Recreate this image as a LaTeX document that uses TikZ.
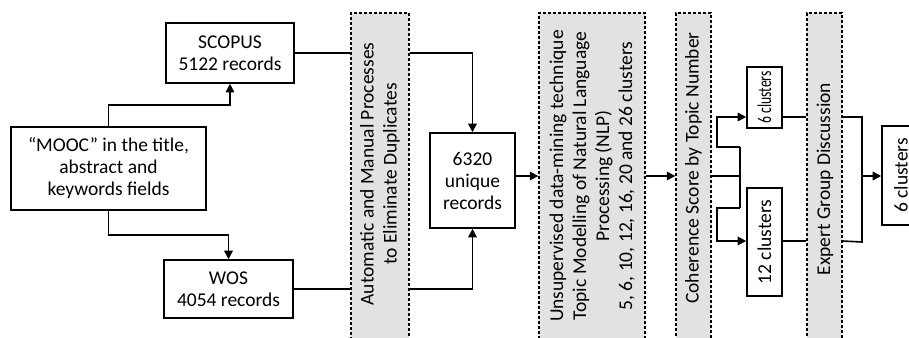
\documentclass[tikz,border=0pt]{standalone}
\usepackage{fontspec}
\setmainfont{Carlito}
\usepackage{graphicx}
\usetikzlibrary{arrows.meta,calc}
\definecolor{panelgray}{RGB}{226,226,226}
\begin{document}
\begin{tikzpicture}[x=1pt,y=-1pt,
  box/.style={draw, line width=1.6pt, fill=white, align=center, inner sep=0pt, font=\fontsize{19.5}{22}\selectfont},
  panel/.style={draw, dash pattern=on 3pt off 2pt, line width=1.3pt, fill=panelgray, inner sep=0pt},
  lbl/.style={align=center, inner sep=0pt, rotate=90, font=\fontsize{19.5}{23}\selectfont},
  ln/.style={line width=1.6pt},
  arr/.style={line width=1.6pt, -{Triangle[length=8.5pt,width=8.5pt]}}]
\useasboundingbox (0,0) rectangle (909,337);
\clip (0,0) rectangle (909,337);
\fill[white] (0,0) rectangle (909,337);

% panels
\node[panel, minimum width=58pt, minimum height=340pt] (d1) at (380,183) {};
\node[panel, minimum width=106pt, minimum height=340pt] (d2) at (592,183) {};
\node[panel, minimum width=35pt, minimum height=340pt] (d3) at (693.5,183) {};
\node[panel, minimum width=35pt, minimum height=340pt] (d4) at (824.5,183) {};
\node[lbl] (t1) at (380,174) {Automatic and Manual Processes\\to Eliminate Duplicates};
\node[lbl] (t2) at (592,176) {Unsupervised data-mining technique\\Topic Modelling of Natural Language\\Processing (NLP)\\5, 6, 10, 12, 16, 20 and 26 clusters};
\node[lbl] (t3) at (693.5,168) {Coherence Score by Topic Number};
\node[lbl] (t4) at (825,179) {Expert Group Discussion};

% boxes
\node[box, minimum width=128pt, minimum height=60pt] (scopus) at (230,53) {SCOPUS\\5122 records};
\node[box, minimum width=195pt, minimum height=83pt] (mooc) at (108.5,168.5) {“MOOC” in the title,\\abstract and\\keywords fields};
\node[box, minimum width=129pt, minimum height=58pt] (wos) at (228.5,289) {WOS\\4054 records};
\node[box, minimum width=85pt, minimum height=95pt] (u) at (472.5,180.5) {6320\\unique\\records};
\node[box, minimum width=35pt, minimum height=61pt] (c6) at (764.5,97.5) {\rotatebox{90}{\scalebox{0.7}[1]{6 clusters}}};
\node[box, minimum width=35pt, minimum height=108pt] (c12) at (764.5,242) {\rotatebox{90}{12 clusters}};
\node[box, minimum width=38pt, minimum height=99pt] (fin) at (901,175.5) {\rotatebox{90}{6 clusters}};

% helper coordinates
\coordinate (mid) at (0,176);
\coordinate (r1) at (0,117);
\coordinate (r2) at (0,241);
\coordinate (j1) at (740,147);
\coordinate (j2) at (740,208);
\coordinate (jm) at (740,176);
\coordinate (k2) at (862,242);
\coordinate (km) at (862,176);

% connectors
\draw[arr] (mooc.north) -- ++(0,-21) -| (scopus.south);
\draw[arr] (mooc.south) -- ++(0,24) -| (wos.north);
\draw[ln] (scopus.east) -- (d1.west |- scopus.east);
\draw[ln] (wos.east) -- (d1.west |- wos.east);
\draw[arr] (d1.east |- scopus.east) -| (u.north);
\draw[arr] (d1.east |- wos.east) -| (u.south);
\draw[arr] (u.east |- mid) -- (d2.west |- mid);
\draw[arr] (d2.east |- mid) -- (d3.west |- mid);
\draw[ln] (d3.east |- mid) -- (jm);
\draw[ln] (j1) -- (j2);
\draw[arr] (j1) -- ++(-23,0) |- (c6.west |- r1);
\draw[arr] (j2) -- ++(-23,0) |- (c12.west |- r2);
\draw[ln] (c6.east |- r1) -- (d4.west |- r1);
\draw[ln] (c12.east |- r2) -- (d4.west |- r2);
\draw[ln] (d4.east |- r1) -| (k2) -- (d4.east |- r2);
\draw[arr] (km) -- (fin.west |- mid);
\end{tikzpicture}
\end{document}
